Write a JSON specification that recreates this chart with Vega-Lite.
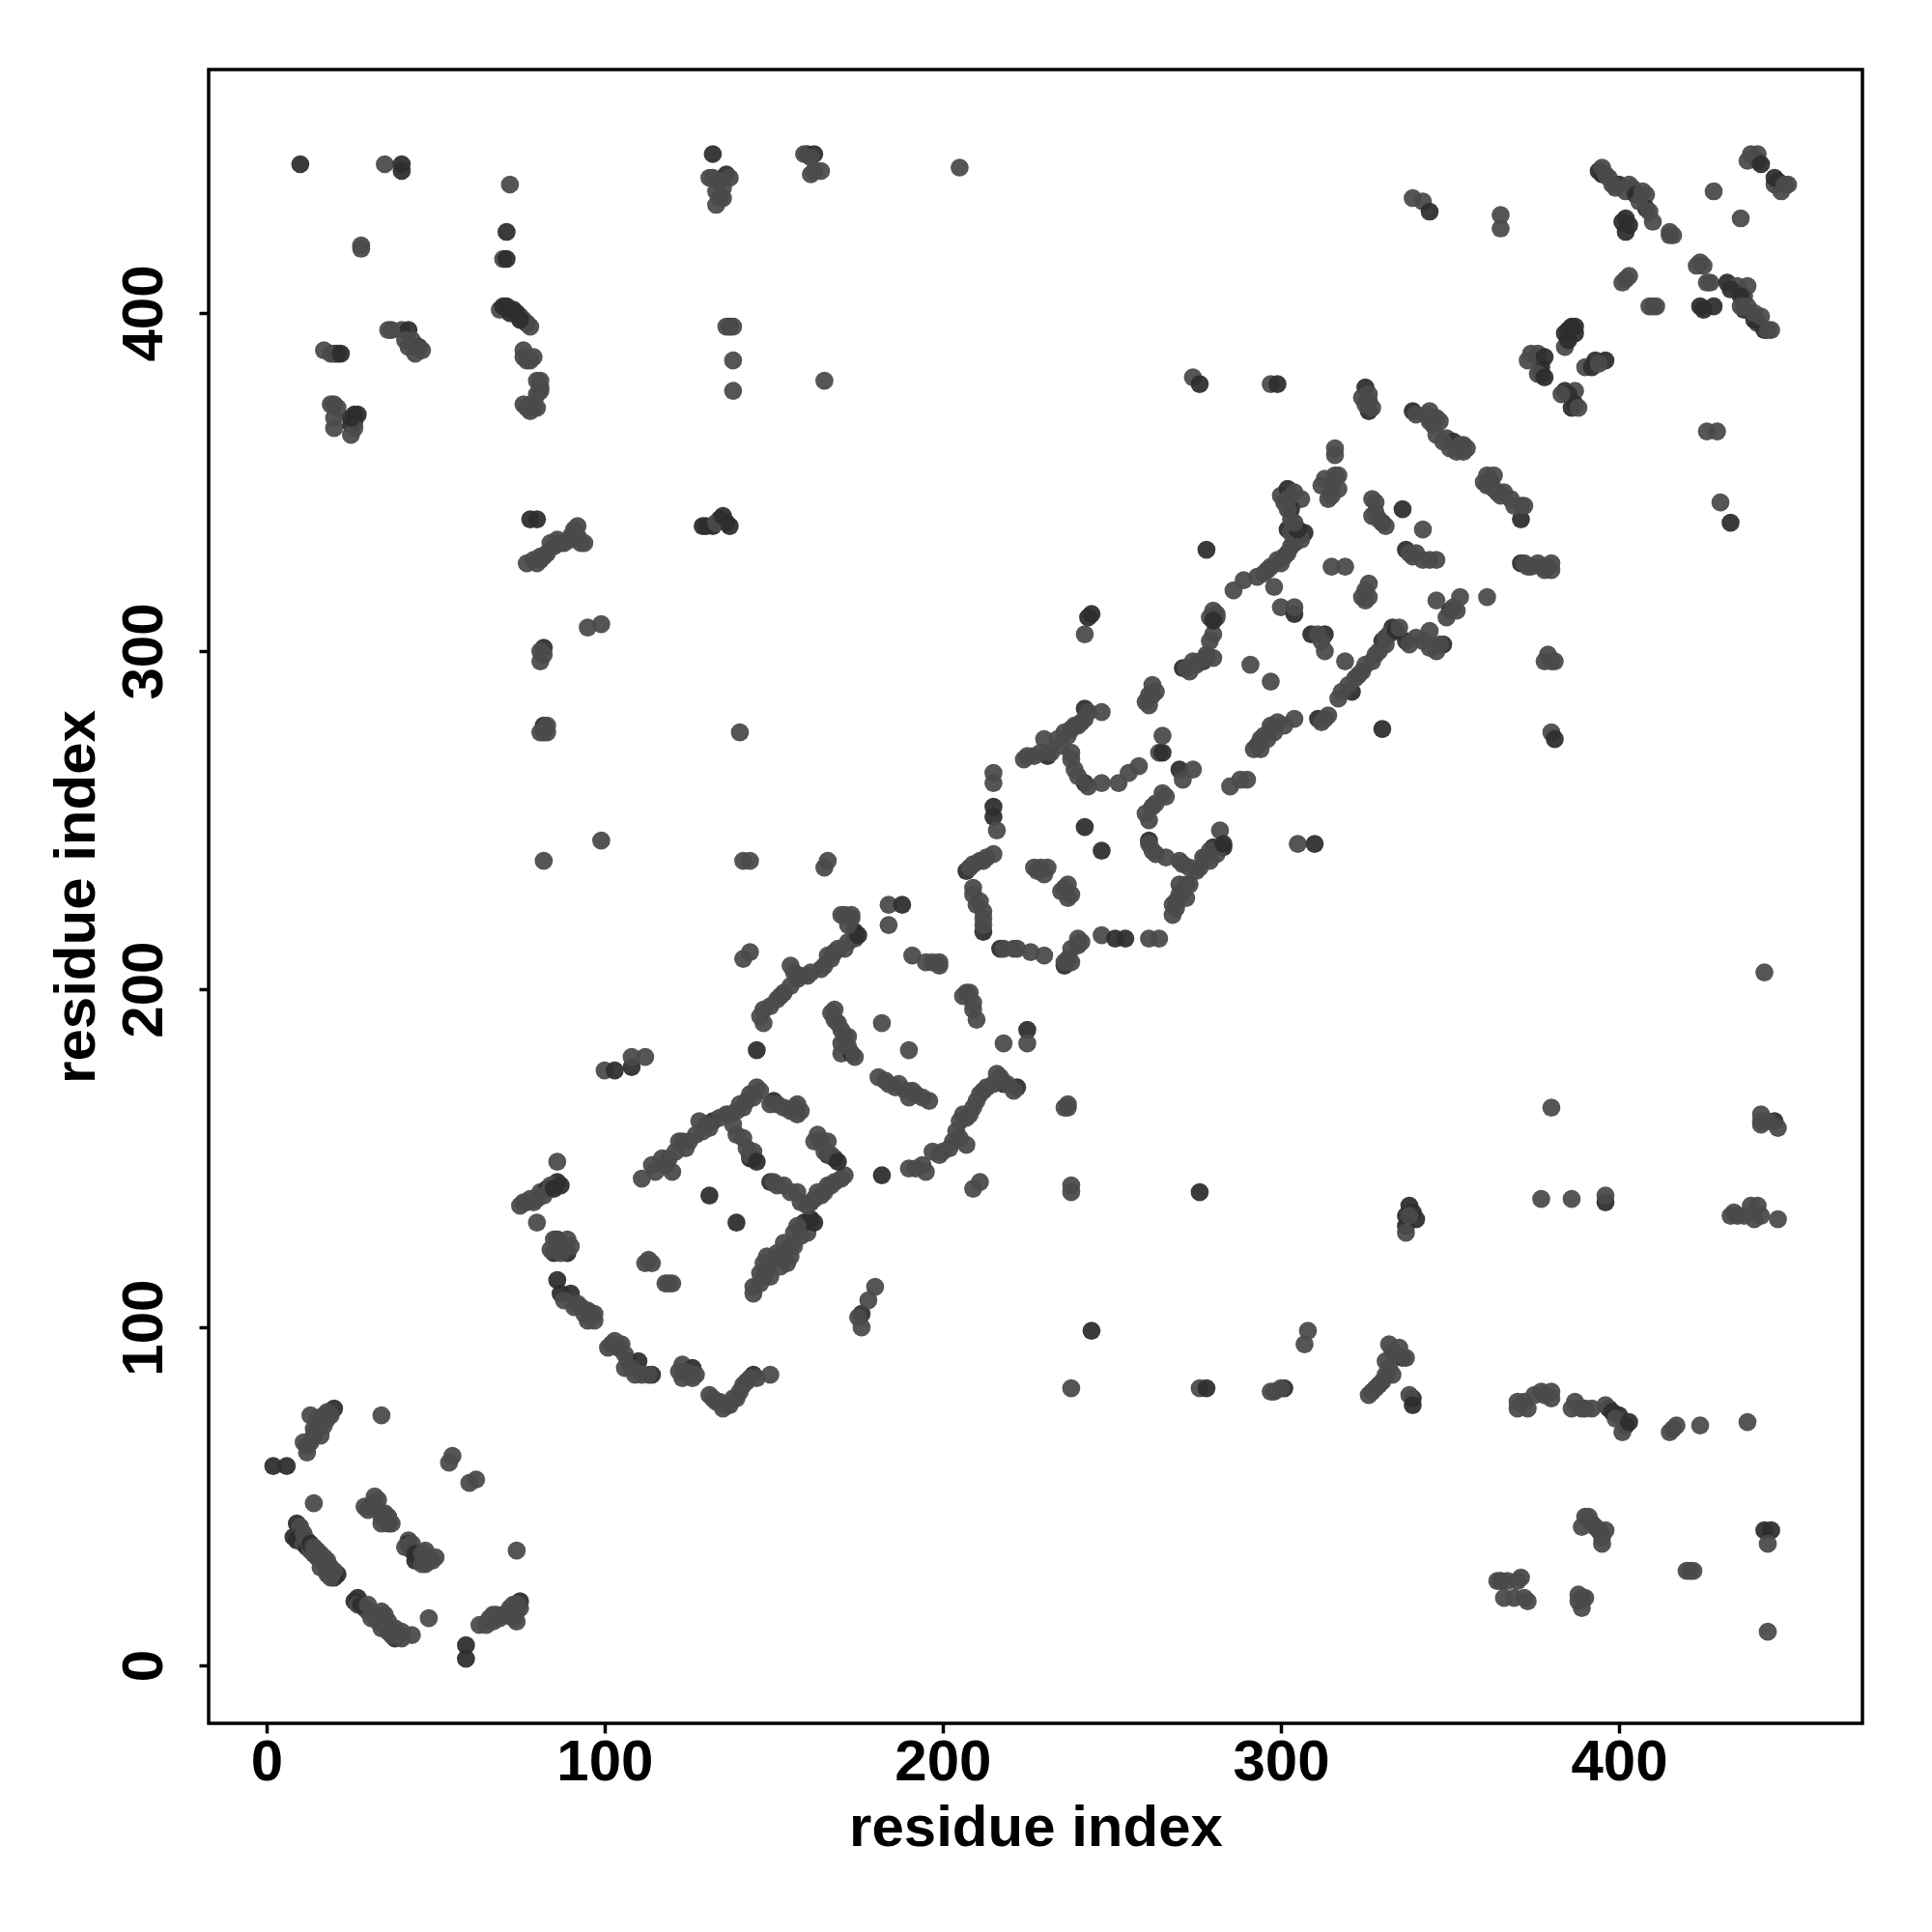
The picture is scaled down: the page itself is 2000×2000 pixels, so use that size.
{"$schema":"https://vega.github.io/schema/vega-lite/v6.json","width":1712,"height":1712,"autosize":"none","padding":{"left":216,"top":72,"right":72,"bottom":216},"background":"white","view":{"stroke":"black","strokeWidth":3.5,"fill":"white"},"config":{"axis":{"grid":false,"domain":false,"tickColor":"black","tickWidth":3.5,"tickSize":10,"labelFont":"Liberation Sans","labelFontWeight":"bold","labelFontSize":60,"labelColor":"black","titleFont":"Liberation Sans","titleFontWeight":"bold","titleFontSize":60,"titleColor":"black"}},"data":{"values":[
{"x":2,"y":59,"g":0},{"x":6,"y":59,"g":0},{"x":59,"y":2,"g":0},{"x":59,"y":6,"g":0},{"x":14,"y":48,"g":1},{"x":48,"y":14,"g":1},
{"x":8,"y":38,"g":0},{"x":9,"y":37,"g":0},{"x":9,"y":42,"g":0},{"x":10,"y":41,"g":1},{"x":10,"y":38,"g":0},{"x":11,"y":36,"g":1},{"x":12,"y":35,"g":0},{"x":13,"y":34,"g":1},{"x":14,"y":33,"g":1},{"x":15,"y":32,"g":1},{"x":16,"y":33,"g":1},{"x":17,"y":30,"g":1},{"x":18,"y":29,"g":1},{"x":19,"y":28,"g":1},{"x":20,"y":27,"g":1},{"x":21,"y":27,"g":0},{"x":20,"y":26,"g":0},
{"x":29,"y":47,"g":1},{"x":32,"y":50,"g":1},{"x":31,"y":47,"g":0},{"x":33,"y":46,"g":1},{"x":32,"y":48,"g":1},{"x":35,"y":43,"g":1},{"x":36,"y":42,"g":0},{"x":42,"y":37,"g":1},{"x":42,"y":36,"g":0},{"x":43,"y":34,"g":1},{"x":45,"y":32,"g":1},{"x":47,"y":30,"g":1},{"x":47,"y":31,"g":0},{"x":44,"y":31,"g":0},{"x":48,"y":32,"g":0},{"x":50,"y":32,"g":1},
{"x":34,"y":74,"g":1},{"x":74,"y":34,"g":1},{"x":13,"y":74,"g":1},{"x":17,"y":74,"g":1},{"x":20,"y":76,"g":0},{"x":18,"y":73,"g":1},{"x":15,"y":70,"g":1},{"x":14,"y":68,"g":1},{"x":12,"y":65,"g":1},{"x":11,"y":66,"g":1},{"x":12,"y":63,"g":1},
{"x":63,"y":12,"g":1},{"x":65,"y":12,"g":1},{"x":66,"y":14,"g":1},{"x":69,"y":14,"g":1},{"x":71,"y":15,"g":1},{"x":73,"y":14,"g":1},{"x":74,"y":13,"g":1},{"x":75,"y":19,"g":0},{"x":74,"y":18,"g":1},{"x":72,"y":17,"g":1},
{"x":54,"y":60,"g":1},{"x":55,"y":62,"g":1},{"x":60,"y":54,"g":1},{"x":62,"y":55,"g":1},
{"x":26,"y":19,"g":0},{"x":27,"y":20,"g":0},{"x":29,"y":17,"g":1},{"x":30,"y":16,"g":1},{"x":32,"y":15,"g":1},{"x":34,"y":16,"g":1},{"x":34,"y":11,"g":1},{"x":36,"y":13,"g":1},{"x":38,"y":8,"g":0},{"x":40,"y":8,"g":1},{"x":40,"y":10,"g":1},{"x":43,"y":9,"g":1},
{"x":10,"y":444,"g":0},{"x":35,"y":444,"g":1},{"x":40,"y":444,"g":0},{"x":40,"y":442,"g":0},{"x":72,"y":438,"g":1},{"x":71,"y":424,"g":0},{"x":70,"y":416,"g":1},{"x":71,"y":416,"g":0},{"x":28,"y":420,"g":1},{"x":28,"y":419,"g":1},
{"x":36,"y":395,"g":1},{"x":40,"y":395,"g":1},{"x":42,"y":395,"g":0},{"x":43,"y":392,"g":1},{"x":42,"y":390,"g":1},{"x":45,"y":390,"g":0},{"x":44,"y":388,"g":1},
{"x":69,"y":401,"g":1},{"x":71,"y":402,"g":0},{"x":73,"y":401,"g":0},{"x":75,"y":399,"g":0},{"x":77,"y":397,"g":0},{"x":76,"y":389,"g":1},{"x":76,"y":387,"g":1},{"x":79,"y":387,"g":1},{"x":80,"y":380,"g":1},{"x":80,"y":376,"g":1},{"x":78,"y":373,"g":1},{"x":76,"y":373,"g":1},{"x":79,"y":372,"g":1},
{"x":17,"y":389,"g":1},{"x":20,"y":388,"g":0},{"x":21,"y":388,"g":0},{"x":20,"y":373,"g":1},{"x":20,"y":369,"g":1},{"x":20,"y":366,"g":1},{"x":26,"y":370,"g":0},{"x":25,"y":367,"g":0},{"x":25,"y":364,"g":1},
{"x":132,"y":447,"g":0},{"x":132,"y":440,"g":1},{"x":134,"y":434,"g":1},{"x":136,"y":441,"g":0},{"x":134,"y":439,"g":1},{"x":160,"y":447,"g":0},{"x":162,"y":442,"g":1},{"x":205,"y":443,"g":1},
{"x":137,"y":396,"g":0},{"x":138,"y":386,"g":1},{"x":138,"y":377,"g":1},{"x":165,"y":380,"g":1},{"x":130,"y":337,"g":0},{"x":132,"y":337,"g":0},{"x":134,"y":339,"g":0},{"x":136,"y":338,"g":0},
{"x":78,"y":339,"g":0},{"x":80,"y":339,"g":0},{"x":79,"y":327,"g":1},{"x":81,"y":328,"g":1},{"x":82,"y":328,"g":1},{"x":84,"y":332,"g":1},{"x":87,"y":332,"g":0},{"x":91,"y":336,"g":1},{"x":93,"y":332,"g":1},{"x":92,"y":334,"g":1},
{"x":82,"y":301,"g":0},{"x":81,"y":297,"g":1},{"x":82,"y":278,"g":0},{"x":82,"y":276,"g":1},{"x":95,"y":307,"g":1},{"x":99,"y":308,"g":1},{"x":82,"y":238,"g":1},{"x":99,"y":244,"g":1},{"x":140,"y":276,"g":1},{"x":141,"y":238,"g":1},{"x":143,"y":238,"g":1},{"x":165,"y":236,"g":1},{"x":166,"y":238,"g":1},{"x":141,"y":209,"g":1},{"x":143,"y":211,"g":1},{"x":145,"y":182,"g":0},
{"x":100,"y":176,"g":1},{"x":103,"y":176,"g":0},{"x":108,"y":177,"g":0},{"x":108,"y":180,"g":1},{"x":112,"y":180,"g":1},
{"x":76,"y":137,"g":1},{"x":78,"y":138,"g":1},{"x":81,"y":140,"g":1},{"x":83,"y":141,"g":0},{"x":86,"y":143,"g":0},{"x":86,"y":149,"g":1},{"x":80,"y":131,"g":1},
{"x":86,"y":126,"g":0},{"x":89,"y":126,"g":1},{"x":85,"y":122,"g":0},{"x":89,"y":122,"g":0},{"x":86,"y":114,"g":0},{"x":87,"y":110,"g":0},{"x":90,"y":110,"g":0},{"x":91,"y":106,"g":1},{"x":95,"y":105,"g":1},{"x":97,"y":104,"g":1},{"x":95,"y":102,"g":1},
{"x":102,"y":95,"g":1},{"x":105,"y":95,"g":1},{"x":107,"y":90,"g":0},{"x":110,"y":90,"g":0},{"x":111,"y":86,"g":1},{"x":114,"y":86,"g":0},{"x":123,"y":89,"g":1},{"x":126,"y":88,"g":0},{"x":123,"y":85,"g":1},{"x":126,"y":85,"g":1},
{"x":131,"y":80,"g":1},{"x":134,"y":78,"g":1},{"x":136,"y":77,"g":1},{"x":139,"y":79,"g":1},{"x":141,"y":83,"g":1},{"x":144,"y":86,"g":0},{"x":149,"y":86,"g":1},
{"x":111,"y":144,"g":1},{"x":114,"y":148,"g":1},{"x":117,"y":150,"g":1},{"x":120,"y":146,"g":1},{"x":122,"y":155,"g":1},{"x":124,"y":153,"g":1},{"x":127,"y":157,"g":1},{"x":128,"y":161,"g":1},{"x":132,"y":161,"g":0},{"x":136,"y":163,"g":1},{"x":139,"y":164,"g":1},{"x":140,"y":166,"g":1},{"x":143,"y":169,"g":1},{"x":145,"y":171,"g":1},
{"x":139,"y":157,"g":1},{"x":142,"y":153,"g":1},{"x":144,"y":150,"g":0},{"x":143,"y":150,"g":0},{"x":150,"y":167,"g":0},{"x":153,"y":165,"g":1},{"x":157,"y":166,"g":1},{"x":157,"y":163,"g":1},{"x":149,"y":143,"g":0},{"x":153,"y":142,"g":1},
{"x":157,"y":140,"g":1},{"x":161,"y":137,"g":1},{"x":164,"y":139,"g":1},{"x":166,"y":142,"g":1},{"x":170,"y":144,"g":1},{"x":163,"y":157,"g":1},{"x":166,"y":155,"g":1},{"x":166,"y":151,"g":0},{"x":168,"y":150,"g":0},
{"x":131,"y":139,"g":0},{"x":139,"y":131,"g":0},{"x":161,"y":132,"g":0},{"x":160,"y":128,"g":1},{"x":156,"y":128,"g":1},{"x":155,"y":124,"g":1},{"x":151,"y":122,"g":1},{"x":147,"y":119,"g":1},{"x":146,"y":116,"g":1},{"x":144,"y":112,"g":1},{"x":149,"y":115,"g":1},{"x":155,"y":121,"g":1},
{"x":113,"y":120,"g":1},{"x":114,"y":119,"g":1},{"x":119,"y":113,"g":1},{"x":176,"y":100,"g":1},{"x":176,"y":104,"g":0},{"x":180,"y":112,"g":1},{"x":178,"y":108,"g":1},
{"x":182,"y":145,"g":0},{"x":190,"y":147,"g":1},{"x":194,"y":148,"g":1},{"x":197,"y":152,"g":1},{"x":202,"y":153,"g":1},{"x":204,"y":158,"g":1},{"x":207,"y":154,"g":1},{"x":206,"y":163,"g":1},{"x":209,"y":165,"g":1},{"x":212,"y":170,"g":1},{"x":217,"y":174,"g":1},{"x":222,"y":171,"g":0},{"x":218,"y":172,"g":0},{"x":209,"y":141,"g":1},{"x":211,"y":143,"g":1},
{"x":181,"y":174,"g":1},{"x":184,"y":172,"g":1},{"x":187,"y":172,"g":1},{"x":191,"y":170,"g":1},{"x":194,"y":168,"g":1},{"x":170,"y":181,"g":1},{"x":173,"y":181,"g":0},{"x":171,"y":186,"g":1},{"x":168,"y":194,"g":1},{"x":169,"y":190,"g":1},{"x":182,"y":190,"g":1},{"x":190,"y":182,"g":1},
{"x":147,"y":190,"g":1},{"x":147,"y":194,"g":1},{"x":151,"y":197,"g":1},{"x":155,"y":201,"g":1},{"x":155,"y":207,"g":1},{"x":158,"y":204,"g":1},{"x":164,"y":206,"g":1},{"x":166,"y":210,"g":1},{"x":171,"y":212,"g":1},{"x":174,"y":217,"g":0},{"x":170,"y":222,"g":1},{"x":173,"y":221,"g":1},
{"x":184,"y":225,"g":1},{"x":184,"y":219,"g":1},{"x":188,"y":225,"g":0},{"x":191,"y":210,"g":1},{"x":195,"y":208,"g":1},{"x":199,"y":207,"g":1},{"x":207,"y":199,"g":1},{"x":209,"y":194,"g":1},{"x":210,"y":191,"g":1},{"x":218,"y":184,"g":1},{"x":225,"y":188,"g":0},{"x":225,"y":184,"g":1},
{"x":237,"y":165,"g":1},{"x":238,"y":140,"g":1},{"x":276,"y":140,"g":0},{"x":238,"y":82,"g":1},{"x":244,"y":99,"g":0},{"x":276,"y":82,"g":1},{"x":278,"y":82,"g":0},{"x":298,"y":81,"g":1},{"x":301,"y":82,"g":0},{"x":308,"y":99,"g":1},{"x":307,"y":95,"g":1},
{"x":327,"y":81,"g":1},{"x":330,"y":84,"g":1},{"x":332,"y":88,"g":1},{"x":333,"y":93,"g":1},{"x":336,"y":91,"g":0},{"x":339,"y":79,"g":0},{"x":337,"y":133,"g":0},{"x":339,"y":134,"g":0},{"x":337,"y":130,"g":0},
{"x":377,"y":138,"g":1},{"x":386,"y":138,"g":1},{"x":396,"y":137,"g":0},{"x":380,"y":165,"g":1},{"x":443,"y":205,"g":1},
{"x":372,"y":78,"g":1},{"x":377,"y":81,"g":1},{"x":380,"y":81,"g":1},{"x":387,"y":78,"g":1},{"x":390,"y":76,"g":1},{"x":397,"y":76,"g":0},{"x":400,"y":74,"g":0},{"x":402,"y":71,"g":0},{"x":416,"y":70,"g":1},{"x":424,"y":71,"g":1},{"x":438,"y":72,"g":1},
{"x":390,"y":44,"g":1},{"x":392,"y":42,"g":1},{"x":394,"y":40,"g":0},{"x":395,"y":36,"g":1},{"x":365,"y":25,"g":0},{"x":370,"y":25,"g":1},{"x":366,"y":20,"g":1},{"x":373,"y":19,"g":1},{"x":389,"y":20,"g":0},{"x":389,"y":17,"g":1},{"x":421,"y":28,"g":1},
{"x":443,"y":40,"g":0},{"x":445,"y":40,"g":0},{"x":444,"y":36,"g":1},{"x":444,"y":10,"g":1},{"x":442,"y":161,"g":1},{"x":446,"y":161,"g":0},{"x":433,"y":133,"g":1},{"x":437,"y":133,"g":1},{"x":441,"y":136,"g":1},{"x":447,"y":132,"g":1},
{"x":207,"y":235,"g":0},{"x":211,"y":238,"g":1},{"x":215,"y":240,"g":1},{"x":209,"y":230,"g":1},{"x":211,"y":226,"g":1},{"x":212,"y":221,"g":1},{"x":212,"y":217,"g":0},{"x":217,"y":212,"g":0},{"x":222,"y":212,"g":1},{"x":226,"y":211,"g":1},{"x":230,"y":210,"g":1},{"x":236,"y":207,"g":0},{"x":238,"y":212,"g":1},{"x":240,"y":215,"g":1},
{"x":229,"y":236,"g":1},{"x":227,"y":236,"g":1},{"x":231,"y":236,"g":1},{"x":236,"y":230,"g":1},{"x":237,"y":227,"g":1},{"x":247,"y":216,"g":1},{"x":251,"y":215,"g":0},{"x":254,"y":215,"g":0},{"x":261,"y":215,"g":1},{"x":264,"y":215,"g":1},
{"x":268,"y":225,"g":1},{"x":270,"y":228,"g":1},{"x":273,"y":231,"g":1},{"x":270,"y":231,"g":1},{"x":270,"y":238,"g":1},{"x":275,"y":235,"g":1},{"x":278,"y":239,"g":1},{"x":280,"y":242,"g":0},{"x":283,"y":242,"g":0},{"x":282,"y":247,"g":1},
{"x":261,"y":244,"g":0},{"x":262,"y":241,"g":1},{"x":266,"y":239,"g":1},{"x":260,"y":252,"g":1},{"x":262,"y":254,"g":1},{"x":266,"y":257,"g":1},{"x":264,"y":270,"g":1},{"x":265,"y":270,"g":0},{"x":265,"y":275,"g":1},{"x":270,"y":265,"g":0},{"x":274,"y":265,"g":1},{"x":271,"y":262,"g":1},
{"x":247,"y":241,"g":0},{"x":242,"y":248,"g":0},{"x":215,"y":264,"g":1},{"x":215,"y":261,"g":1},{"x":215,"y":251,"g":0},{"x":215,"y":254,"g":0},{"x":216,"y":247,"g":1},
{"x":224,"y":268,"g":1},{"x":227,"y":269,"g":1},{"x":230,"y":274,"g":1},{"x":231,"y":269,"g":0},{"x":235,"y":272,"g":1},{"x":236,"y":276,"g":1},{"x":238,"y":277,"g":1},{"x":241,"y":279,"g":1},{"x":242,"y":283,"g":0},{"x":247,"y":282,"g":1},{"x":238,"y":270,"g":1},{"x":239,"y":265,"g":1},{"x":242,"y":261,"g":0},{"x":247,"y":261,"g":1},{"x":252,"y":261,"g":1},{"x":255,"y":264,"g":1},{"x":258,"y":266,"g":1},
{"x":243,"y":310,"g":0},{"x":244,"y":311,"g":0},{"x":242,"y":305,"g":1},{"x":260,"y":285,"g":1},{"x":262,"y":290,"g":1},{"x":261,"y":287,"g":1},
{"x":271,"y":295,"g":0},{"x":275,"y":296,"g":1},{"x":277,"y":297,"g":0},{"x":280,"y":298,"g":1},{"x":280,"y":305,"g":1},{"x":280,"y":312,"g":1},{"x":278,"y":330,"g":0},{"x":291,"y":296,"g":1},{"x":297,"y":291,"g":1},
{"x":293,"y":272,"g":0},{"x":295,"y":275,"g":1},{"x":299,"y":279,"g":1},{"x":304,"y":280,"g":1},{"x":311,"y":280,"g":0},{"x":313,"y":280,"g":1},{"x":297,"y":277,"g":1},{"x":285,"y":260,"g":1},{"x":288,"y":262,"g":1},{"x":290,"y":262,"g":1},{"x":305,"y":243,"g":1},{"x":310,"y":243,"g":0},
{"x":317,"y":286,"g":1},{"x":321,"y":288,"g":0},{"x":324,"y":294,"g":1},{"x":328,"y":299,"g":1},{"x":330,"y":303,"g":0},{"x":333,"y":307,"g":0},{"x":319,"y":297,"g":1},{"x":309,"y":305,"g":0},{"x":313,"y":305,"g":0},{"x":313,"y":300,"g":1},{"x":330,"y":277,"g":0},
{"x":337,"y":303,"g":0},{"x":342,"y":303,"g":1},{"x":348,"y":302,"g":0},{"x":346,"y":300,"g":1},{"x":344,"y":306,"g":1},{"x":350,"y":312,"g":0},{"x":351,"y":313,"g":1},{"x":353,"y":316,"g":1},{"x":361,"y":316,"g":1},{"x":346,"y":315,"g":1},
{"x":325,"y":318,"g":1},{"x":325,"y":315,"g":1},{"x":315,"y":325,"g":1},{"x":319,"y":325,"g":1},{"x":300,"y":313,"g":1},{"x":304,"y":311,"g":0},{"x":304,"y":313,"g":1},{"x":298,"y":319,"g":1},
{"x":286,"y":318,"g":1},{"x":289,"y":321,"g":1},{"x":293,"y":322,"g":1},{"x":297,"y":325,"g":1},{"x":299,"y":327,"g":1},{"x":302,"y":329,"g":1},{"x":304,"y":332,"g":0},{"x":307,"y":335,"g":0},{"x":302,"y":336,"g":0},{"x":303,"y":339,"g":1},{"x":300,"y":346,"g":1},{"x":302,"y":348,"g":0},{"x":306,"y":345,"g":1},{"x":303,"y":342,"g":0},
{"x":312,"y":349,"g":1},{"x":316,"y":352,"g":1},{"x":315,"y":346,"g":1},{"x":316,"y":360,"g":1},{"x":327,"y":345,"g":1},{"x":328,"y":341,"g":1},{"x":330,"y":338,"g":0},{"x":336,"y":342,"g":0},{"x":342,"y":336,"g":1},{"x":337,"y":330,"g":0},{"x":339,"y":328,"g":1},{"x":342,"y":327,"g":1},{"x":346,"y":327,"g":1},
{"x":325,"y":378,"g":0},{"x":326,"y":374,"g":1},{"x":326,"y":371,"g":0},{"x":339,"y":371,"g":0},{"x":344,"y":371,"g":1},{"x":346,"y":369,"g":1},{"x":344,"y":368,"g":1},{"x":349,"y":363,"g":1},{"x":351,"y":362,"g":0},{"x":353,"y":361,"g":1},{"x":361,"y":352,"g":1},{"x":362,"y":350,"g":0},{"x":364,"y":347,"g":1},{"x":368,"y":345,"g":1},{"x":371,"y":343,"g":1},{"x":371,"y":339,"g":0},
{"x":371,"y":326,"g":0},{"x":376,"y":326,"g":1},{"x":379,"y":325,"g":0},{"x":380,"y":297,"g":1},{"x":379,"y":299,"g":1},{"x":380,"y":276,"g":1},{"x":381,"y":274,"g":0},
{"x":274,"y":381,"g":1},{"x":276,"y":379,"g":0},{"x":297,"y":379,"g":1},{"x":299,"y":379,"g":0},{"x":339,"y":434,"g":1},{"x":342,"y":433,"g":1},{"x":344,"y":430,"g":0},{"x":365,"y":429,"g":1},{"x":365,"y":425,"g":1},
{"x":374,"y":388,"g":1},{"x":377,"y":384,"g":0},{"x":377,"y":382,"g":0},{"x":384,"y":394,"g":0},{"x":386,"y":396,"g":0},{"x":384,"y":390,"g":1},{"x":390,"y":384,"g":1},{"x":393,"y":386,"g":0},{"x":396,"y":386,"g":0},{"x":384,"y":377,"g":0},{"x":387,"y":377,"g":1},{"x":387,"y":373,"g":0},
{"x":395,"y":441,"g":0},{"x":397,"y":440,"g":1},{"x":400,"y":438,"g":0},{"x":404,"y":437,"g":1},{"x":408,"y":435,"g":1},{"x":408,"y":431,"g":0},{"x":410,"y":427,"g":1},{"x":402,"y":428,"g":0},{"x":402,"y":424,"g":0},{"x":415,"y":423,"g":1},{"x":424,"y":415,"g":1},{"x":428,"y":436,"g":1},{"x":436,"y":428,"g":1},
{"x":439,"y":447,"g":1},{"x":441,"y":445,"g":0},{"x":447,"y":439,"g":0},{"x":450,"y":438,"g":1},{"x":402,"y":410,"g":1},{"x":410,"y":402,"g":1},{"x":424,"y":402,"g":0},{"x":428,"y":402,"g":0},{"x":427,"y":409,"g":1},{"x":432,"y":409,"g":0},{"x":435,"y":408,"g":1},{"x":437,"y":405,"g":1},{"x":437,"y":401,"g":0},{"x":441,"y":397,"g":1},{"x":443,"y":395,"g":0},{"x":444,"y":395,"g":1},
{"x":426,"y":365,"g":1},{"x":429,"y":365,"g":1},{"x":430,"y":344,"g":1},{"x":433,"y":338,"g":0},
{"x":11,"y":39,"g":1},{"x":12,"y":37,"g":1},{"x":13,"y":36,"g":0},{"x":14,"y":35,"g":1},{"x":15,"y":34,"g":1},{"x":16,"y":31,"g":1},{"x":17,"y":32,"g":1},{"x":18,"y":31,"g":1},{"x":19,"y":29,"g":1},{"x":20,"y":28,"g":1},{"x":19,"y":26,"g":1},{"x":18,"y":27,"g":1},{"x":16,"y":29,"g":1},
{"x":27,"y":18,"g":1},{"x":28,"y":18,"g":0},{"x":30,"y":18,"g":1},{"x":31,"y":14,"g":1},{"x":33,"y":13,"g":1},{"x":35,"y":12,"g":1},{"x":36,"y":10,"g":1},{"x":37,"y":9,"g":1},{"x":38,"y":11,"g":1},{"x":39,"y":9,"g":1},{"x":35,"y":15,"g":1},
{"x":67,"y":13,"g":1},{"x":68,"y":15,"g":1},{"x":70,"y":15,"g":1},{"x":72,"y":16,"g":1},{"x":73,"y":18,"g":1},{"x":74,"y":16,"g":1},{"x":75,"y":17,"g":1},{"x":67,"y":15,"g":1},
{"x":16,"y":72,"g":1},{"x":15,"y":73,"g":1},{"x":16,"y":68,"g":1},{"x":13,"y":66,"g":1},{"x":14,"y":70,"g":1},{"x":18,"y":75,"g":1},{"x":19,"y":74,"g":1},{"x":17,"y":71,"g":1},
{"x":34,"y":44,"g":1},{"x":34,"y":42,"g":1},{"x":35,"y":45,"g":1},{"x":36,"y":44,"g":1},{"x":33,"y":49,"g":1},{"x":37,"y":42,"g":1},{"x":30,"y":46,"g":1},
{"x":41,"y":35,"g":1},{"x":43,"y":36,"g":1},{"x":44,"y":33,"g":0},{"x":46,"y":33,"g":1},{"x":46,"y":30,"g":1},{"x":47,"y":34,"g":1},{"x":49,"y":31,"g":1},
{"x":37,"y":395,"g":1},{"x":41,"y":392,"g":1},{"x":44,"y":390,"g":1},{"x":46,"y":389,"g":1},{"x":70,"y":402,"g":0},{"x":72,"y":400,"g":0},{"x":74,"y":400,"g":0},{"x":76,"y":398,"g":1},{"x":78,"y":396,"g":1},{"x":75,"y":398,"g":0},{"x":77,"y":386,"g":1},{"x":78,"y":386,"g":1},{"x":81,"y":380,"g":1},{"x":81,"y":377,"g":1},{"x":80,"y":372,"g":1},{"x":78,"y":371,"g":1},{"x":77,"y":372,"g":1},{"x":81,"y":378,"g":1},
{"x":21,"y":372,"g":1},{"x":19,"y":373,"g":1},{"x":26,"y":368,"g":0},{"x":27,"y":370,"g":0},{"x":26,"y":366,"g":1},{"x":25,"y":369,"g":0},{"x":19,"y":388,"g":1},{"x":22,"y":388,"g":0},
{"x":131,"y":440,"g":1},{"x":133,"y":436,"g":1},{"x":135,"y":437,"g":1},{"x":137,"y":440,"g":1},{"x":133,"y":432,"g":1},{"x":135,"y":434,"g":1},{"x":159,"y":447,"g":1},{"x":162,"y":447,"g":0},{"x":161,"y":441,"g":1},{"x":164,"y":442,"g":1},{"x":161,"y":446,"g":1},{"x":136,"y":396,"g":1},{"x":138,"y":396,"g":1},
{"x":129,"y":337,"g":0},{"x":133,"y":338,"g":1},{"x":135,"y":340,"g":0},{"x":137,"y":337,"g":0},
{"x":77,"y":326,"g":1},{"x":80,"y":326,"g":1},{"x":81,"y":327,"g":1},{"x":83,"y":329,"g":1},{"x":85,"y":331,"g":1},{"x":86,"y":333,"g":1},{"x":88,"y":332,"g":1},{"x":90,"y":333,"g":1},{"x":92,"y":337,"g":1},{"x":94,"y":332,"g":1},{"x":90,"y":334,"g":1},
{"x":81,"y":300,"g":1},{"x":82,"y":299,"g":1},{"x":81,"y":276,"g":1},{"x":83,"y":276,"g":1},{"x":83,"y":278,"g":1},
{"x":75,"y":136,"g":1},{"x":77,"y":137,"g":1},{"x":79,"y":137,"g":1},{"x":80,"y":138,"g":1},{"x":82,"y":139,"g":1},{"x":84,"y":142,"g":1},{"x":85,"y":141,"g":0},{"x":87,"y":142,"g":0},{"x":85,"y":126,"g":1},{"x":87,"y":124,"g":1},{"x":88,"y":124,"g":1},{"x":87,"y":122,"g":1},{"x":90,"y":124,"g":1},{"x":84,"y":123,"g":1},
{"x":88,"y":108,"g":1},{"x":92,"y":107,"g":1},{"x":93,"y":106,"g":1},{"x":96,"y":104,"g":1},{"x":97,"y":102,"g":1},{"x":94,"y":104,"g":1},{"x":101,"y":94,"g":1},{"x":103,"y":96,"g":1},{"x":104,"y":94,"g":1},{"x":106,"y":92,"g":1},{"x":106,"y":88,"g":1},{"x":108,"y":88,"g":1},{"x":109,"y":86,"g":1},{"x":113,"y":86,"g":1},{"x":124,"y":87,"g":1},{"x":125,"y":86,"g":1},{"x":122,"y":87,"g":1},{"x":127,"y":86,"g":1},
{"x":132,"y":79,"g":1},{"x":133,"y":78,"g":1},{"x":135,"y":76,"g":1},{"x":137,"y":77,"g":1},{"x":138,"y":79,"g":1},{"x":140,"y":81,"g":1},{"x":142,"y":84,"g":1},{"x":143,"y":85,"g":1},{"x":145,"y":85,"g":1},
{"x":115,"y":146,"g":1},{"x":118,"y":148,"g":1},{"x":119,"y":150,"g":1},{"x":121,"y":152,"g":1},{"x":123,"y":155,"g":1},{"x":125,"y":155,"g":1},{"x":130,"y":160,"g":1},{"x":131,"y":159,"g":1},{"x":134,"y":162,"g":1},{"x":137,"y":163,"g":1},{"x":141,"y":165,"g":1},{"x":142,"y":167,"g":1},{"x":144,"y":168,"g":1},{"x":146,"y":170,"g":1},{"x":129,"y":158,"g":1},
{"x":138,"y":160,"g":1},{"x":141,"y":156,"g":1},{"x":143,"y":151,"g":1},{"x":144,"y":152,"g":1},{"x":145,"y":149,"g":0},{"x":149,"y":166,"g":1},{"x":151,"y":166,"g":1},{"x":155,"y":164,"g":1},{"x":156,"y":165,"g":1},{"x":158,"y":164,"g":1},{"x":150,"y":143,"g":1},{"x":151,"y":142,"g":1},{"x":155,"y":140,"g":1},
{"x":158,"y":137,"g":1},{"x":160,"y":136,"g":1},{"x":162,"y":138,"g":1},{"x":163,"y":140,"g":1},{"x":165,"y":140,"g":1},{"x":167,"y":142,"g":1},{"x":168,"y":143,"g":1},{"x":171,"y":145,"g":1},{"x":162,"y":155,"g":1},{"x":164,"y":155,"g":1},{"x":165,"y":152,"g":1},{"x":167,"y":151,"g":1},{"x":169,"y":149,"g":0},
{"x":162,"y":131,"g":0},{"x":159,"y":131,"g":0},{"x":157,"y":130,"g":1},{"x":158,"y":127,"g":1},{"x":153,"y":125,"g":1},{"x":153,"y":122,"g":1},{"x":150,"y":120,"g":1},{"x":148,"y":121,"g":1},{"x":148,"y":117,"g":1},{"x":146,"y":113,"g":1},{"x":144,"y":110,"g":1},{"x":147,"y":115,"g":1},{"x":152,"y":118,"g":1},{"x":156,"y":124,"g":1},{"x":154,"y":119,"g":1},
{"x":112,"y":119,"g":1},{"x":118,"y":113,"g":1},{"x":120,"y":113,"g":1},
{"x":183,"y":173,"g":1},{"x":186,"y":171,"g":1},{"x":189,"y":170,"g":1},{"x":190,"y":168,"g":1},{"x":192,"y":169,"g":1},{"x":196,"y":167,"g":1},{"x":192,"y":147,"g":1},{"x":195,"y":146,"g":1},{"x":199,"y":151,"g":1},{"x":200,"y":152,"g":1},{"x":203,"y":155,"g":1},{"x":205,"y":156,"g":1},{"x":205,"y":161,"g":1},{"x":207,"y":162,"g":1},{"x":208,"y":163,"g":1},{"x":210,"y":167,"g":1},{"x":211,"y":169,"g":1},{"x":213,"y":171,"g":1},{"x":215,"y":172,"g":1},{"x":216,"y":175,"g":1},{"x":219,"y":172,"g":1},{"x":221,"y":170,"g":1},
{"x":170,"y":184,"g":1},{"x":172,"y":183,"g":1},{"x":174,"y":180,"g":1},{"x":168,"y":191,"g":1},{"x":170,"y":188,"g":1},{"x":172,"y":186,"g":1},{"x":167,"y":193,"g":1},
{"x":146,"y":192,"g":1},{"x":149,"y":195,"g":1},{"x":152,"y":198,"g":1},{"x":153,"y":199,"g":1},{"x":156,"y":205,"g":1},{"x":157,"y":203,"g":1},{"x":160,"y":204,"g":1},{"x":161,"y":205,"g":1},{"x":165,"y":207,"g":1},{"x":167,"y":209,"g":1},{"x":168,"y":211,"g":1},{"x":169,"y":212,"g":1},{"x":172,"y":214,"g":1},{"x":174,"y":215,"g":1},{"x":175,"y":216,"g":0},{"x":172,"y":219,"g":1},{"x":171,"y":222,"g":1},{"x":173,"y":222,"g":1},
{"x":206,"y":198,"g":1},{"x":209,"y":196,"g":1},{"x":208,"y":199,"g":1},{"x":199,"y":208,"g":1},{"x":197,"y":208,"g":1},
{"x":208,"y":236,"g":1},{"x":209,"y":237,"g":1},{"x":212,"y":238,"g":1},{"x":213,"y":239,"g":1},{"x":209,"y":228,"g":1},{"x":210,"y":225,"g":1},{"x":212,"y":223,"g":1},{"x":212,"y":219,"g":1},{"x":218,"y":212,"g":1},{"x":221,"y":212,"g":1},{"x":236,"y":208,"g":1},{"x":238,"y":208,"g":1},{"x":237,"y":209,"g":1},{"x":240,"y":213,"g":1},{"x":241,"y":214,"g":1},{"x":228,"y":235,"g":1},{"x":230,"y":234,"g":1},{"x":235,"y":229,"g":1},{"x":238,"y":228,"g":1},{"x":237,"y":231,"g":1},
{"x":269,"y":226,"g":1},{"x":271,"y":229,"g":1},{"x":272,"y":227,"g":1},{"x":268,"y":222,"g":1},{"x":269,"y":224,"g":1},{"x":272,"y":231,"g":1},{"x":271,"y":237,"g":1},{"x":273,"y":236,"g":1},{"x":276,"y":236,"g":1},{"x":277,"y":239,"g":1},{"x":279,"y":241,"g":1},{"x":281,"y":240,"g":1},{"x":283,"y":243,"g":0},{"x":279,"y":238,"g":1},{"x":261,"y":243,"g":1},{"x":263,"y":240,"g":1},{"x":261,"y":250,"g":1},{"x":263,"y":255,"g":1},{"x":265,"y":258,"g":1},
{"x":225,"y":269,"g":1},{"x":229,"y":270,"g":1},{"x":232,"y":270,"g":1},{"x":234,"y":274,"g":1},{"x":237,"y":275,"g":1},{"x":239,"y":278,"g":1},{"x":240,"y":278,"g":1},{"x":242,"y":280,"g":1},{"x":243,"y":282,"g":1},{"x":238,"y":268,"g":1},{"x":243,"y":260,"g":1},{"x":240,"y":263,"g":1},
{"x":261,"y":284,"g":1},{"x":263,"y":288,"g":1},{"x":262,"y":287,"g":1},{"x":272,"y":295,"g":1},{"x":273,"y":294,"g":1},{"x":274,"y":297,"g":1},{"x":276,"y":297,"g":1},{"x":278,"y":299,"g":1},{"x":279,"y":303,"g":1},{"x":279,"y":310,"g":1},{"x":281,"y":310,"g":1},{"x":281,"y":311,"g":1},{"x":278,"y":298,"g":1},{"x":280,"y":309,"g":0},
{"x":294,"y":271,"g":1},{"x":294,"y":274,"g":1},{"x":296,"y":274,"g":1},{"x":297,"y":278,"g":1},{"x":298,"y":276,"g":1},{"x":301,"y":278,"g":1},{"x":312,"y":279,"g":1},{"x":314,"y":281,"g":1},{"x":292,"y":271,"g":1},
{"x":318,"y":288,"g":1},{"x":320,"y":290,"g":1},{"x":322,"y":292,"g":1},{"x":323,"y":293,"g":1},{"x":325,"y":296,"g":1},{"x":327,"y":297,"g":1},{"x":329,"y":300,"g":1},{"x":331,"y":304,"g":1},{"x":332,"y":305,"g":1},{"x":334,"y":306,"g":0},{"x":335,"y":307,"g":1},{"x":311,"y":305,"g":1},{"x":312,"y":303,"g":1},{"x":331,"y":302,"g":1},
{"x":338,"y":302,"g":1},{"x":340,"y":304,"g":1},{"x":344,"y":301,"g":1},{"x":347,"y":302,"g":1},{"x":349,"y":310,"g":1},{"x":352,"y":312,"g":1},{"x":324,"y":316,"g":1},{"x":326,"y":320,"g":1},{"x":326,"y":316,"g":1},
{"x":295,"y":323,"g":1},{"x":296,"y":324,"g":1},{"x":300,"y":326,"g":1},{"x":301,"y":328,"g":1},{"x":303,"y":331,"g":1},{"x":305,"y":334,"g":1},{"x":306,"y":333,"g":1},{"x":303,"y":335,"g":1},{"x":305,"y":336,"g":0},{"x":304,"y":338,"g":1},{"x":302,"y":342,"g":1},{"x":302,"y":345,"g":1},{"x":304,"y":347,"g":1},{"x":301,"y":344,"g":1},
{"x":313,"y":351,"g":1},{"x":315,"y":349,"g":1},{"x":317,"y":352,"g":1},{"x":316,"y":358,"g":1},{"x":317,"y":348,"g":1},{"x":314,"y":345,"g":1},
{"x":328,"y":344,"g":1},{"x":327,"y":340,"g":1},{"x":329,"y":339,"g":1},{"x":331,"y":337,"g":1},{"x":338,"y":329,"g":1},{"x":340,"y":329,"g":1},{"x":344,"y":327,"g":1},
{"x":326,"y":376,"g":1},{"x":327,"y":372,"g":1},{"x":324,"y":375,"g":1},{"x":325,"y":373,"g":1},{"x":340,"y":370,"g":1},{"x":343,"y":370,"g":1},{"x":345,"y":367,"g":1},{"x":347,"y":368,"g":1},{"x":346,"y":364,"g":1},{"x":348,"y":362,"g":1},{"x":350,"y":360,"g":1},{"x":352,"y":359,"g":1},{"x":354,"y":359,"g":1},{"x":355,"y":360,"g":1},{"x":354,"y":361,"g":1},{"x":360,"y":350,"g":1},{"x":361,"y":349,"g":1},{"x":363,"y":352,"g":1},{"x":365,"y":346,"g":1},{"x":366,"y":347,"g":1},{"x":363,"y":348,"g":1},{"x":369,"y":343,"g":1},{"x":372,"y":343,"g":1},
{"x":372,"y":326,"g":1},{"x":373,"y":325,"g":1},{"x":374,"y":325,"g":1},{"x":377,"y":325,"g":1},{"x":378,"y":324,"g":1},{"x":380,"y":324,"g":1},{"x":380,"y":326,"g":1},{"x":378,"y":297,"g":1},{"x":381,"y":297,"g":1},
{"x":373,"y":386,"g":1},{"x":376,"y":388,"g":1},{"x":378,"y":387,"g":0},{"x":376,"y":382,"g":1},{"x":378,"y":381,"g":0},{"x":385,"y":392,"g":0},{"x":385,"y":395,"g":0},{"x":387,"y":394,"g":0},{"x":387,"y":396,"g":0},{"x":392,"y":384,"g":0},{"x":394,"y":385,"g":1},{"x":385,"y":376,"g":0},{"x":386,"y":372,"g":0},{"x":383,"y":376,"g":1},{"x":388,"y":372,"g":1},
{"x":394,"y":442,"g":0},{"x":395,"y":443,"g":1},{"x":396,"y":441,"g":1},{"x":398,"y":438,"g":1},{"x":399,"y":437,"g":1},{"x":402,"y":436,"g":1},{"x":403,"y":438,"g":1},{"x":405,"y":435,"g":0},{"x":406,"y":433,"g":1},{"x":409,"y":430,"g":1},{"x":407,"y":436,"g":1},{"x":401,"y":427,"g":0},{"x":403,"y":426,"g":0},
{"x":415,"y":424,"g":1},{"x":416,"y":423,"g":1},{"x":423,"y":414,"g":1},{"x":425,"y":414,"g":1},{"x":403,"y":411,"g":1},{"x":401,"y":409,"g":1},{"x":409,"y":402,"g":1},{"x":411,"y":402,"g":1},{"x":425,"y":401,"g":0},{"x":438,"y":408,"g":1},{"x":436,"y":405,"g":0},{"x":436,"y":402,"g":1},{"x":438,"y":402,"g":1},{"x":440,"y":398,"g":0},{"x":442,"y":399,"g":1},{"x":445,"y":395,"g":1},{"x":440,"y":400,"g":1},
{"x":438,"y":445,"g":1},{"x":441,"y":447,"g":1},{"x":442,"y":444,"g":0},{"x":446,"y":438,"g":1},{"x":448,"y":436,"g":1},{"x":446,"y":440,"g":0},{"x":449,"y":438,"g":1},{"x":426,"y":409,"g":1},{"x":433,"y":407,"g":0},
{"x":370,"y":78,"g":1},{"x":373,"y":76,"g":1},{"x":378,"y":80,"g":1},{"x":386,"y":76,"g":1},{"x":389,"y":76,"g":1},{"x":392,"y":76,"g":1},{"x":396,"y":77,"g":1},{"x":398,"y":75,"g":0},{"x":399,"y":73,"g":1},{"x":401,"y":69,"g":1},{"x":403,"y":72,"g":0},{"x":415,"y":69,"g":1},{"x":417,"y":71,"g":1},
{"x":389,"y":41,"g":1},{"x":391,"y":44,"g":1},{"x":393,"y":41,"g":1},{"x":396,"y":40,"g":1},{"x":395,"y":38,"g":1},{"x":364,"y":25,"g":1},{"x":367,"y":25,"g":1},{"x":371,"y":26,"g":1},{"x":369,"y":20,"g":1},{"x":372,"y":20,"g":1},{"x":388,"y":19,"g":1},{"x":390,"y":20,"g":1},{"x":388,"y":21,"g":1},{"x":420,"y":28,"g":1},{"x":422,"y":28,"g":1},
{"x":442,"y":160,"g":1},{"x":442,"y":163,"g":1},{"x":447,"y":159,"g":1},{"x":444,"y":161,"g":1},{"x":434,"y":134,"g":1},{"x":435,"y":133,"g":1},{"x":439,"y":136,"g":1},{"x":442,"y":133,"g":1},{"x":440,"y":132,"g":1},
{"x":326,"y":80,"g":1},{"x":328,"y":82,"g":1},{"x":329,"y":83,"g":1},{"x":331,"y":86,"g":1},{"x":331,"y":90,"g":1},{"x":333,"y":86,"g":1},{"x":332,"y":95,"g":1},{"x":334,"y":92,"g":1},{"x":338,"y":80,"g":1},{"x":339,"y":77,"g":0},{"x":335,"y":94,"g":1},{"x":337,"y":91,"g":1},
{"x":338,"y":136,"g":0},{"x":340,"y":132,"g":0},{"x":337,"y":128,"g":1},{"x":338,"y":133,"g":1},{"x":297,"y":81,"g":1},{"x":300,"y":82,"g":1},{"x":396,"y":139,"g":1},{"x":237,"y":166,"g":1},{"x":238,"y":142,"g":1},{"x":236,"y":165,"g":1},{"x":175,"y":103,"g":1},{"x":380,"y":79,"g":1},{"x":375,"y":80,"g":1},{"x":370,"y":76,"g":1}
]},"mark":{"type":"circle","size":350,"opacity":0.94,"strokeWidth":0},"encoding":{"x":{"field":"x","type":"quantitative","scale":{"domain":[-17.1,472],"nice":false,"zero":false},"axis":{"values":[0,100,200,300,400],"title":"residue index","labelPadding":1,"titlePadding":9}},"y":{"field":"y","type":"quantitative","scale":{"domain":[-17.1,472],"nice":false,"zero":false},"axis":{"values":[0,100,200,300,400],"title":"residue index","labelAngle":-90,"labelAlign":"center","labelBaseline":"bottom","labelPadding":26,"titlePadding":9}},"color":{"field":"g","type":"nominal","scale":{"domain":[0,1],"range":["#2e2e2e","#4a4a4a"]},"legend":null}}}
